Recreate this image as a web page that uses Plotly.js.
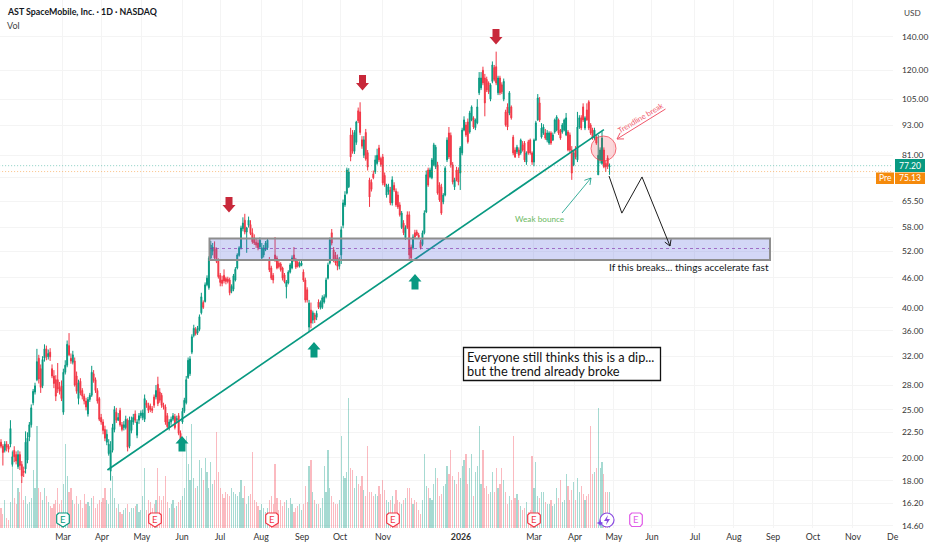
<!DOCTYPE html>
<html><head><meta charset="utf-8">
<script src="https://cdn.plot.ly/plotly-3.0.1.min.js"></script>
<style>html,body{margin:0;padding:0;background:#fff}#c{width:932px;height:550px}</style></head>
<body><div id="c"></div>
<script>
const opens=[21.5,21.1,20.7,21.3,21.1,21.3,19.4,20.7,20.3,19.2,
20.3,19.4,18.8,19.0,19.8,22.0,23.3,25.8,27.1,28.7,
31.7,30.2,27.9,31.7,33.1,31.9,32.6,30.2,29.2,28.7,
28.7,27.7,27.9,24.7,29.7,30.7,33.6,31.7,31.1,31.3,
29.2,26.3,28.5,27.3,26.6,26.0,24.5,26.2,26.7,29.5,
28.7,27.3,26.3,24.1,23.6,22.8,21.5,20.4,18.8,20.7,
22.8,24.7,23.8,24.9,23.3,23.0,23.0,23.8,21.1,22.7,
23.6,24.5,22.2,23.8,24.3,24.1,23.9,25.8,25.5,25.4,
25.1,26.5,26.5,28.1,27.1,26.7,25.5,25.3,24.3,23.0,
23.6,23.9,24.2,23.8,24.3,22.4,23.6,24.8,25.8,29.0,
29.5,32.6,35.2,36.2,35.6,36.2,39.1,41.0,41.2,44.5,
43.9,50.4,52.0,52.9,52.5,49.9,46.5,45.5,46.5,45.8,
45.7,45.5,43.2,43.6,45.5,48.1,51.0,52.8,57.7,60.0,
56.8,58.6,58.8,56.6,55.3,54.2,54.0,53.0,50.4,51.1,
52.3,52.8,49.9,48.1,46.5,51.1,50.4,49.2,49.0,48.1,
46.6,44.1,44.9,47.2,48.1,51.1,49.9,49.4,48.5,48.7,
47.2,45.5,43.5,36.6,39.6,37.8,38.7,38.3,41.1,40.1,
40.1,41.1,42.1,45.9,49.2,56.6,52.3,51.1,50.4,48.5,
51.1,58.6,64.4,68.0,70.0,89.0,89.0,82.5,86.0,99.5,
99.0,87.0,81.0,90.0,82.0,72.3,71.5,74.3,75.0,78.0,
83.8,79.8,80.4,73.8,67.4,68.4,69.0,65.0,70.5,68.6,
67.4,64.4,58.0,59.2,55.3,61.5,61.5,53.0,52.8,56.6,
56.8,56.0,54.3,53.6,56.6,62.3,75.7,73.3,73.0,77.5,
76.8,77.5,70.6,70.0,65.3,67.4,79.3,89.8,88.8,77.5,
70.0,75.7,75.7,74.6,81.9,91.0,93.2,94.5,90.2,95.4,
96.3,92.0,94.1,108.1,110.6,120.0,115.8,115.0,113.2,105.0,
114.0,121.5,122.0,108.1,115.8,112.2,105.0,99.0,101.3,98.5,
101.3,88.1,83.0,82.3,83.0,81.9,85.0,85.7,78.5,86.2,
86.9,81.9,78.5,86.9,95.4,103.2,88.1,89.8,89.8,86.9,
85.7,89.8,86.9,90.2,91.0,95.4,91.0,90.2,91.0,89.0,
90.2,89.0,83.0,77.5,83.0,79.3,92.3,96.3,101.3,91.9,
99.9,103.7,93.2,91.0,87.7,88.1,74.0,79.3,78.0,83.0,78.0,80.0,76.8];
const closes=[21.1,20.5,21.3,21.0,20.8,22.9,20.1,20.1,19.7,20.3,
19.3,18.4,18.7,21.5,21.9,23.3,25.2,27.2,27.9,31.2,
28.8,27.7,31.5,33.1,31.9,32.4,31.9,29.2,28.2,26.6,
27.5,27.2,26.3,29.7,30.7,33.8,32.2,31.3,32.2,28.0,
27.2,28.3,27.0,26.6,26.0,25.3,26.2,26.7,29.7,28.6,
27.3,26.0,23.9,23.6,22.7,21.9,22.3,21.3,20.7,23.0,
25.0,23.8,24.1,23.3,22.8,23.3,23.9,21.0,23.8,23.8,
24.1,23.8,23.6,24.3,24.6,24.6,26.3,25.5,24.9,25.0,
24.9,25.5,27.3,25.7,26.1,25.5,25.3,23.6,23.1,23.6,
23.9,24.3,23.0,24.0,22.4,21.5,24.8,26.1,28.7,31.4,
31.6,35.0,36.4,35.5,36.4,38.4,42.1,40.1,44.5,45.9,
50.4,53.5,53.0,50.4,49.6,46.2,45.0,44.8,45.3,45.2,
45.2,42.9,44.2,46.4,47.8,51.1,52.8,57.9,59.2,56.8,
57.9,60.0,56.4,54.3,54.0,53.5,52.8,54.7,52.8,52.8,
54.0,54.7,47.7,45.9,45.5,49.9,48.1,48.4,47.7,45.9,
45.1,45.1,47.2,48.8,50.4,49.9,48.3,48.5,49.2,49.2,
45.5,41.5,41.5,40.9,37.3,39.1,37.9,39.0,40.1,41.0,
41.9,42.1,45.5,48.8,54.8,54.0,49.9,49.2,48.5,50.0,
57.4,65.0,67.4,75.7,75.0,80.4,82.5,90.0,94.5,95.0,
90.0,84.5,87.0,79.6,76.7,66.8,69.2,73.0,79.3,81.0,
79.3,77.6,71.3,70.6,70.6,70.0,65.0,72.3,69.0,64.4,
63.8,61.5,62.0,56.6,58.0,58.0,51.1,50.4,55.5,55.5,
56.0,55.4,52.8,56.6,62.0,74.0,70.6,75.7,79.3,85.0,
84.1,68.0,65.9,62.0,67.4,76.3,86.9,80.4,77.5,71.6,
72.3,72.3,71.6,83.8,91.0,95.4,89.0,86.2,98.5,101.3,
92.3,95.4,101.3,115.8,115.8,113.2,103.2,109.6,108.6,112.2,
123.0,115.0,113.2,115.8,108.1,108.6,114.0,93.2,92.3,108.1,
96.3,81.9,80.4,84.1,81.0,86.9,83.0,79.3,81.9,81.9,
81.9,78.5,86.9,94.1,105.6,95.4,91.9,92.3,87.7,89.8,
89.8,85.7,89.0,95.4,96.7,89.8,87.7,93.2,95.4,96.3,
83.0,83.0,74.6,81.9,80.4,92.3,96.3,91.9,95.4,96.3,
95.4,91.9,89.8,87.7,91.0,85.7,81.0,83.0,87.7,76.8,76.8,77.0,77.2];
const highs=[21.8,21.3,21.6,21.6,21.3,23.8,20.6,21.1,20.6,20.7,
20.6,19.7,19.2,22.6,22.5,23.6,25.6,27.5,28.3,33.1,
32.2,30.8,32.0,33.8,33.6,33.0,33.2,30.8,30.0,29.3,
31.0,28.4,28.6,30.2,31.4,34.4,35.6,32.4,32.8,31.8,
29.8,28.7,28.9,27.6,26.9,26.4,26.5,27.0,30.6,30.0,
29.0,27.6,26.5,24.5,23.9,23.2,22.8,21.8,21.6,23.4,
25.4,25.2,24.6,25.2,23.6,23.7,24.3,24.0,24.2,24.2,
24.5,24.9,23.9,24.6,24.9,25.0,26.8,26.1,25.8,25.7,
25.4,26.8,28.0,29.1,27.6,27.0,25.8,25.6,24.6,23.9,
24.2,24.6,24.5,24.3,24.6,22.7,25.2,26.4,29.2,31.8,
32.0,35.4,37.0,36.6,36.8,38.8,42.9,41.4,45.0,46.5,
50.8,54.5,54.0,54.4,52.9,50.3,47.0,46.4,47.8,46.2,
46.2,46.0,44.6,46.8,48.3,51.5,53.2,58.5,60.8,61.8,
58.2,61.0,60.0,57.8,56.2,55.2,54.8,55.4,54.0,53.5,
54.5,55.2,50.6,48.6,47.0,55.5,50.9,49.7,49.4,48.4,
47.0,45.5,47.6,49.2,51.0,53.0,50.4,49.8,49.6,49.8,
47.8,46.0,44.0,41.5,41.0,39.5,39.1,39.5,41.6,41.4,
42.4,42.6,46.0,49.3,55.4,57.6,53.0,51.8,51.2,50.6,
58.3,66.0,68.6,76.5,76.3,92.0,91.0,91.0,95.0,101.0,
103.5,88.5,88.5,91.5,83.0,73.0,72.5,75.5,81.0,83.5,
85.0,80.5,81.5,74.8,71.0,71.0,70.0,73.5,71.5,69.5,
68.5,65.2,62.6,60.0,58.6,62.5,62.5,53.6,56.2,57.4,
57.4,56.6,54.8,57.2,62.8,75.5,76.5,76.5,80.0,85.8,
85.0,78.6,71.5,71.0,68.0,77.0,88.0,92.3,90.0,78.5,
73.0,76.8,76.6,84.5,92.0,97.0,94.5,96.0,99.5,102.0,
97.0,96.0,105.0,119.0,119.0,122.0,118.0,116.5,114.0,113.0,
125.0,123.0,130.8,117.0,117.0,113.5,115.5,100.0,103.0,109.0,
102.0,89.0,84.0,85.0,84.0,87.5,86.5,86.5,82.5,87.0,
87.5,82.5,87.5,95.0,107.5,106.0,94.0,93.5,91.5,91.0,
90.5,90.5,90.0,96.0,97.5,96.0,91.5,94.0,96.0,98.5,
91.0,90.0,84.5,83.0,84.5,99.0,97.5,97.5,103.0,97.0,
103.0,104.5,94.0,92.0,92.0,89.0,89.0,84.0,90.5,84.0,79.0,81.0,78.0];
const lows=[20.9,19.3,20.5,20.6,20.5,21.0,19.2,19.6,19.4,19.0,
18.9,17.8,18.3,18.6,19.5,21.6,23.0,25.5,26.8,28.5,
28.2,27.0,27.6,31.2,31.4,31.5,31.3,28.9,27.6,26.0,
27.0,26.8,26.0,24.4,29.4,30.4,32.0,30.9,30.8,27.8,
26.9,25.6,26.7,26.2,25.6,24.9,24.2,25.9,26.5,28.3,
27.0,25.7,23.7,23.3,22.3,21.6,21.2,20.2,18.0,20.5,
22.5,23.5,23.7,23.1,22.6,22.7,22.8,20.6,20.9,22.4,
23.3,23.5,21.9,23.4,24.0,23.8,23.6,25.2,24.6,24.7,
24.6,25.2,26.2,25.4,25.8,25.2,25.0,23.3,22.8,22.7,
23.3,23.7,22.8,23.6,22.2,21.0,23.4,24.6,25.6,28.8,
29.2,32.3,34.9,35.2,35.3,35.9,38.8,39.8,41.0,44.2,
43.5,50.0,51.0,50.0,49.2,45.8,44.2,44.2,44.8,44.6,
44.8,42.4,42.8,43.2,45.2,47.8,50.7,52.4,57.0,56.2,
51.6,58.0,56.0,53.8,53.5,52.8,52.2,52.6,49.8,50.5,
52.0,52.3,47.2,45.5,44.8,49.5,47.8,48.0,47.3,45.4,
44.8,41.8,44.6,46.9,47.8,49.5,47.9,48.2,48.2,48.5,
45.1,41.0,41.0,35.8,36.4,37.2,37.3,37.8,39.8,39.7,
39.8,40.8,41.8,45.6,48.9,53.4,49.4,48.7,47.6,47.8,
49.0,57.8,63.8,67.6,69.6,78.8,81.6,81.5,85.0,94.0,
89.0,83.5,80.0,79.0,75.5,63.8,68.5,72.5,74.3,77.5,
78.5,76.8,70.5,70.0,66.6,67.5,64.3,64.2,68.4,63.8,
63.2,61.0,57.6,56.0,54.8,57.6,49.8,49.7,52.4,55.2,
55.8,55.0,52.4,53.2,56.2,62.0,70.0,72.8,72.5,77.0,
76.0,67.5,65.3,61.5,64.6,67.0,78.5,79.6,76.5,70.8,
69.0,71.8,70.5,69.0,81.0,90.5,88.2,85.5,89.5,94.8,
91.5,91.0,93.5,107.0,109.5,112.0,97.0,108.5,107.5,104.0,
113.0,114.0,112.0,107.0,107.0,107.5,104.0,92.5,91.0,97.5,
95.5,81.0,80.0,81.5,80.0,81.2,82.4,78.5,77.5,81.2,
81.2,77.5,77.0,86.5,95.0,94.5,87.5,89.0,87.0,86.0,
85.0,85.0,86.5,89.5,90.5,89.0,87.0,89.5,90.5,88.5,
82.5,82.0,72.3,77.0,79.5,78.5,91.5,91.0,94.5,91.0,
95.0,91.0,89.0,87.0,87.0,85.0,74.0,78.0,77.5,76.3,75.0,76.0,74.0];
const volumes=[10,7,14,5,4,13,39,15,12,20,
18,24,14,16,12,13,15,29,20,51,
20,18,14,20,16,13,11,10,12,14,
20,12,14,22,42,26,18,20,14,12,
16,12,14,10,17,12,13,11,15,16,
10,12,14,13,15,20,14,12,20,26,
15,10,12,8,7,9,10,12,8,10,
10,11,12,8,9,16,30,9,14,13,
10,12,14,30,16,14,16,26,13,10,
12,14,10,11,13,14,16,20,46,32,
24,52,25,20,21,34,30,24,35,28,
20,33,22,24,48,28,20,17,15,18,
17,16,20,18,17,16,18,24,15,21,
12,16,17,38,14,13,11,9,12,10,
8,10,14,16,12,32,15,9,14,11,
13,14,10,15,12,8,10,11,12,9,
12,21,13,31,34,18,14,12,12,10,
15,31,18,39,20,16,13,12,12,14,
46,26,25,28,65,30,29,20,26,22,
21,26,19,16,41,18,18,16,17,16,
21,17,24,19,14,13,14,16,12,19,
14,13,12,14,15,20,20,15,12,14,
13,9,7,14,37,21,20,15,14,22,
30,25,16,17,21,22,31,27,39,26,
24,22,28,25,31,34,37,22,30,37,
16,28,31,51,22,39,20,21,17,18,
28,18,30,20,22,30,24,18,12,16,
14,46,15,17,14,11,9,10,13,8,
9,36,20,33,16,15,18,18,13,12,
12,14,11,12,20,15,24,13,14,27,
21,14,19,23,14,25,18,21,17,14,
16,17,51,27,28,30,60,30,33,27,18,18,18];
const monthBars=[32.8,53.4,74.6,95.8,115.9,137.6,159.3,179.4,202.1,243.4,282,303.7,324.3,344.4,367.2,387.8,408.5,429.6,450.8,471.8];
const monthLabels=['Mar','Apr','May','Jun','Jul','Aug','Sep','Oct','Nov','<b>2026</b>','Mar','Apr','May','Jun','Jul','Aug','Sep','Oct','Nov','De'];
const priceTicks=[140,120,105,93,81,73,65.5,58,52,46,40,36,32,28,25,22.5,20,18,16.2,14.6];
const priceLabels=['140.00','120.00','105.00','93.00','81.00','','65.50','58.00','52.00','46.00','40.00','36.00','32.00','28.00','25.00','22.50','20.00','18.00','16.20','14.60'];
const trendBars=[56.3,319];
const trendPrices=[18.9,91.2];
const pathBars=[321.7,328.5,339.2];
const pathPrices=[73.6,62.0,73.3];
const lastClose=77.20, prePrice=75.13;

const G='#089981',R='#f23645',PW=893,PH=528,FONT='Lato,"Noto Sans",sans-serif',INK='#131722';
const X=p=>p/PW, Y=p=>1-p/PH;
const idx=opens.map((_,i)=>i);
const shapes=[],ann=[];
const line=(x0,y0,x1,y1,c,w,dash)=>shapes.push({type:'line',xref:'paper',yref:'paper',x0:X(x0),y0:Y(y0),x1:X(x1),y1:Y(y1),line:{color:c,width:w,dash:dash||'solid'},layer:'above'});
const arrow=(x0,y0,x1,y1,c,w,h)=>{line(x0,y0,x1,y1,c,w);const a=Math.atan2(y1-y0,x1-x0);
 [2.6,-2.6].forEach(d=>line(x1,y1,x1+h*Math.cos(a+d),y1+h*Math.sin(a+d),c,w));};
const poly=(pts,fill,lc,lw)=>shapes.push({type:'path',xref:'paper',yref:'paper',layer:'above',fillcolor:fill,
 line:{color:lc||fill,width:lw||0},path:'M'+pts.map(p=>X(p[0]).toFixed(5)+' '+Y(p[1]).toFixed(5)).join('L')+'Z'});
const txt=(x,y,t,o)=>ann.push(Object.assign({xref:'paper',yref:'paper',x:X(x),y:Y(y),text:t,showarrow:false,xanchor:'left',yanchor:'middle',
 font:{family:FONT,size:9,color:INK}},o||{}));
// zone
shapes.push({type:'rect',xref:'paper',yref:'paper',x0:X(209.5),x1:X(770),y0:Y(238.5),y1:Y(260),fillcolor:'rgba(92,107,222,0.27)',line:{color:'#8e8e8e',width:2},layer:'above'});
line(210,248.5,769,248.5,'rgba(130,50,170,0.8)',0.8,'3px 3px');
// circle
shapes.push({type:'circle',xref:'paper',yref:'paper',x0:X(591),x1:X(616),y0:Y(136),y1:Y(161),fillcolor:'rgba(242,54,69,0.2)',line:{color:'rgba(242,54,69,0.7)',width:1},layer:'above'});
// block arrows
const down=(x,top)=>poly([[x-3.5,top],[x+3.5,top],[x+3.5,top+8],[x+6.5,top+8],[x,top+15.5],[x-6.5,top+8],[x-3.5,top+8]],'#c8283a');
const up=(x,top)=>poly([[x,top],[x+6.5,top+7.5],[x+3.5,top+7.5],[x+3.5,top+15.5],[x-3.5,top+15.5],[x-3.5,top+7.5],[x-6.5,top+7.5]],G);
down(229,197);down(362.5,75);down(496,29);
up(182,436);up(314,342);up(415,274);
// arrows
arrow(665.5,109,617,139,'#f0566a',1,7);
arrow(562,213,591,178,G,0.8,7);
arrow(642,177,670,246,'#1c1c1c',1,6.5);
// badges
const badge=(x,c,pt)=>{const y=513;const w=6.3;
 poly(pt?[[x-w+2,y],[x+w-2,y],[x+w,y+2],[x+w,y+10],[x,y+14],[x-w,y+10],[x-w,y+2]]:[[x-w+2,y],[x+w-2,y],[x+w,y+2],[x+w,y+11],[x+w-2,y+13.5],[x-w+2,y+13.5],[x-w,y+11],[x-w,y+2]],'rgba(255,255,255,0.95)',c,1.2);
 txt(x,y+6.8,'E',{xanchor:'center',font:{family:FONT,size:9.5,color:c}});};
badge(63,G,true);badge(155,R,true);badge(272,R,true);badge(393,R,true);badge(534,R,true);badge(636,'#e05be8',false);
shapes.push({type:'circle',xref:'paper',yref:'paper',x0:X(600),x1:X(614),y0:Y(513),y1:Y(527),fillcolor:'#fff',line:{color:'#8a4be0',width:1.2},layer:'above'});
poly([[608,515],[604,521],[607,521],[606,525],[610,519],[607,519]],'#8a4be0');
poly([[600,519.5],[601,522],[603.5,523],[601,524],[600,526.5],[599,524],[596.5,523],[599,522]],'#7a4ce8');
// text
txt(5,12,'<b>AST SpaceMobile, Inc. · 1D · NASDAQ</b>',{font:{family:FONT,size:8.8,color:INK}});
txt(5,25,'Vol',{font:{family:FONT,size:9,color:'#444'}});
txt(902,12.5,'USD',{font:{family:FONT,size:8.2,color:'#444'}});
txt(607,267,'If this breaks... things accelerate fast',{font:{family:FONT,size:10.1,color:INK}});
txt(539.5,219,'Weak bounce',{xanchor:'center',font:{family:FONT,size:8.2,color:'#6cb95f'}});
txt(640,118,'Trendline break',{xanchor:'center',textangle:-31,font:{family:FONT,size:7.6,color:'#ef5b6d'}});
// price tags
shapes.push({type:'rect',xref:'paper',yref:'paper',x0:X(895),x1:X(925),y0:Y(159),y1:Y(172),fillcolor:G,line:{width:0},layer:'above'});
shapes.push({type:'rect',xref:'paper',yref:'paper',x0:X(895),x1:X(925),y0:Y(172.5),y1:Y(184),fillcolor:'#f58a0b',line:{width:0},layer:'above'});
shapes.push({type:'rect',xref:'paper',yref:'paper',x0:X(876),x1:X(894),y0:Y(172.5),y1:Y(184),fillcolor:'#f58a0b',line:{width:0},layer:'above'});
txt(910,165.5,lastClose.toFixed(2),{xanchor:'center',font:{family:FONT,size:8.6,color:'#fff'}});
txt(910,178.3,prePrice.toFixed(2),{xanchor:'center',font:{family:FONT,size:8.6,color:'#fff'}});
txt(885,178.3,'Pre',{xanchor:'center',font:{family:FONT,size:8.6,color:'#fff'}});
// message box
shapes.push({type:'rect',xref:'paper',yref:'paper',x0:X(463.5),x1:X(660.5),y0:Y(347.5),y1:Y(380.5),fillcolor:'#fff',line:{color:'#111',width:1.3},layer:'above'});
txt(465,357,'Everyone still thinks this is a dip...',{font:{family:FONT,size:12.8,color:'#111'}});
txt(465,371,'but the trend already broke',{font:{family:FONT,size:12.8,color:'#111'}});

const traces=[
{type:'bar',x:idx,y:volumes,yaxis:'y',width:0.62,hoverinfo:'skip',
 marker:{color:idx.map(i=>closes[i]>=opens[i]?'rgba(8,153,129,0.36)':'rgba(242,54,69,0.34)'),line:{width:0}}},
{type:'scatter',mode:'lines',x:[-1,472],y:[lastClose,lastClose],yaxis:'y2',hoverinfo:'skip',line:{color:'rgba(8,153,129,0.6)',width:0.8,dash:'1px 2px'}},
{type:'scatter',mode:'lines',x:[-1,472],y:[prePrice,prePrice],yaxis:'y2',hoverinfo:'skip',line:{color:'rgba(245,124,0,0.6)',width:0.8,dash:'1px 2px'}},
{type:'candlestick',x:idx,open:opens,high:highs,low:lows,close:closes,yaxis:'y2',hoverinfo:'skip',whiskerwidth:0,
 increasing:{line:{color:G,width:1},fillcolor:G},decreasing:{line:{color:R,width:1},fillcolor:R}},
{type:'scatter',mode:'lines',x:trendBars,y:trendPrices,yaxis:'y2',hoverinfo:'skip',line:{color:G,width:1.7}},
{type:'scatter',mode:'lines',x:pathBars,y:pathPrices,yaxis:'y2',hoverinfo:'skip',line:{color:'#1c1c1c',width:1}}
];
const layout={width:932,height:550,margin:{l:0,r:39,t:0,b:22,pad:0},paper_bgcolor:'#fff',plot_bgcolor:'#fff',showlegend:false,bargap:0,
 font:{family:FONT,size:9,color:INK},
 xaxis:{type:'linear',range:[-0.53,471.97],tickmode:'array',tickvals:monthBars,ticktext:monthLabels,showgrid:true,gridcolor:'#f4f4f4',gridwidth:1,zeroline:false,showline:false,ticks:'',ticklabelstandoff:2,tickangle:0,tickfont:{family:FONT,size:8.8,color:'#333'},rangeslider:{visible:false},fixedrange:true},
 yaxis:{type:'linear',range:[0,264],showgrid:false,showticklabels:false,ticks:'',zeroline:false,showline:false,fixedrange:true},
 yaxis2:{type:'log',overlaying:'y',side:'right',range:[1.1601,2.2203],tickmode:'array',tickvals:priceTicks,ticktext:priceLabels,showgrid:true,gridcolor:'#f4f4f4',gridwidth:1,zeroline:false,showline:false,ticks:'',ticklabelstandoff:8,tickfont:{family:FONT,size:8.4,color:'#333'},fixedrange:true},
 shapes:shapes,annotations:ann};
Plotly.newPlot('c',traces,layout,{staticPlot:true,displayModeBar:false});
</script></body></html>
